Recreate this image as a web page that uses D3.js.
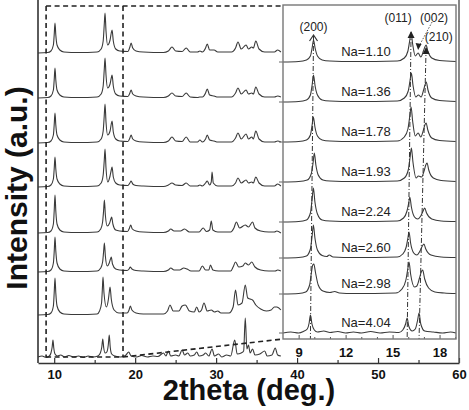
<!DOCTYPE html>
<html>
<head>
<meta charset="utf-8">
<script src="https://cdn.jsdelivr.net/npm/d3@7"></script>
<style>
body { margin: 0; background: #fff; }
text { font-family: "Liberation Sans", Arial, sans-serif; }
</style>
</head>
<body>
<div id="chart"></div>
<script>
// sample labels, top to bottom
var naLabels = ["Na=1.10", "Na=1.36", "Na=1.78", "Na=1.93", "Na=2.24", "Na=2.60", "Na=2.98", "Na=4.04"];

// stacking offset of every pattern (a.u.)
var mainOffsets = [310, 265, 220, 176, 130, 91, 48, 6];
var insetOffsets = [277, 237, 197, 157, 117, 81, 45, 6];

var mainTicks = [10, 20, 30, 40, 50, 60];
var mainMinorTicks = [15, 25, 35, 45, 55];
var insetTicks = [9, 12, 15, 18];
var insetMinorTicks = [10, 11, 13, 14, 16, 17, 19];

// zoom window marked in the main panel (2theta)
var zoomFrom = 9.0, zoomTo = 18.5;

// reflections followed in the inset: position in top and in bottom pattern
var hklNames = ["(200)", "(011)", "(210)"];
var hklTop = [9.95, 16.18, 17.14];
var hklBottom = [9.75, 15.93, 16.69];

// main panel patterns, [2theta, intensity above own baseline]
var mainNa110 = [[8,0],[9.2,0.5],[9.6,2],[9.9,8],[10,18],[10.1,30],[10.2,18],[10.35,8],[10.7,3],[11.2,1],[13,0.5],[15.3,1],[15.8,4],[16.05,12],[16.18,28],[16.28,40],[16.4,22],[16.6,8],[16.9,13],[17.05,20],[17.15,23],[17.3,12],[17.6,4],[18.1,2],[19.1,1.5],[19.35,6],[19.5,10],[19.7,5],[20.1,2],[21,1],[23.5,0.5],[24.1,2],[24.55,6],[25,2],[25.8,1.5],[26.3,5],[26.8,1],[27.7,1],[28,2],[28.3,1],[28.7,5],[28.9,9],[29.2,3],[29.75,3],[30.2,1],[31.9,1],[32.4,5],[32.7,11],[33.1,4],[33.7,8],[34,4],[34.4,6],[34.6,5],[34.9,12],[35.3,4],[36,1],[37.2,1],[37.6,3],[38,1]];
var mainNa136 = [[8,0],[9.2,0.5],[9.6,2],[9.9,8],[10,18],[10.1,30],[10.2,18],[10.35,8],[10.7,3],[11.2,1],[13,0.5],[15.3,1],[15.8,4],[16.05,12],[16.18,28],[16.28,40],[16.4,23],[16.6,10],[16.9,14],[17.05,20],[17.15,23],[17.3,12],[17.6,4],[18.1,2],[19.1,1.5],[19.35,5],[19.5,8],[19.7,4],[20.1,2],[21,1],[23.5,0.5],[24.1,2],[24.55,5],[25,2],[25.8,1.5],[26.3,5],[26.8,1],[27.7,0.5],[28,1],[28.3,1],[28.7,5],[28.9,9],[29.2,3],[29.75,2],[30.2,1],[31.9,1],[32.4,5],[32.7,10],[33.1,4],[33.7,8],[34,4],[34.4,5],[34.6,4],[34.9,11],[35.3,4],[36,1],[37.2,1],[37.6,2],[38,1]];
var mainNa178 = [[8,0],[9.2,0.5],[9.6,2],[9.9,8],[10,18],[10.1,30],[10.2,18],[10.35,8],[10.7,3],[11.2,1],[13,0.5],[15.3,1],[15.8,4],[16.05,12],[16.18,27],[16.28,39],[16.4,21],[16.6,8],[16.9,12],[17.05,19],[17.15,22],[17.3,11],[17.6,4],[18.1,2],[19.1,1.5],[19.35,5],[19.5,8],[19.7,4],[20.1,2],[21,1],[23.5,0.5],[24.1,2],[24.55,6],[25,2],[25.8,1.5],[26.3,6],[26.8,1],[27.7,1],[28,3],[28.3,1],[28.7,4],[28.9,8],[29.2,3],[29.75,2],[30.2,1],[31.9,1],[32.4,5],[32.7,10],[33.1,4],[33.7,9],[34,4],[34.4,6],[34.6,4],[34.9,12],[35.3,4],[36,1],[37.2,1],[37.6,2],[38,1]];
var mainNa193 = [[8,0],[9.2,0.5],[9.6,2],[9.9,8],[10,18],[10.1,30],[10.2,18],[10.35,8],[10.7,3],[11.2,1],[13,0.5],[15.3,1],[15.8,4],[16.05,12],[16.18,26],[16.28,38],[16.4,19],[16.62,5],[16.9,11],[17.05,17],[17.15,20],[17.3,10],[17.6,4],[18.1,2],[19.1,1.5],[19.35,4],[19.5,6],[19.7,3],[20.1,1.5],[21,1],[23.5,0.5],[24.1,2],[24.55,4],[25,2],[25.8,1.5],[26.3,4],[26.8,1],[27.7,1],[28,2],[28.3,1],[28.7,4],[28.9,6],[29.2,2],[29.4,5],[29.5,15],[29.65,4],[30.2,1],[31.9,1],[32.4,4],[32.7,9],[33.1,4],[33.7,7],[34,4],[34.4,5],[34.6,4],[34.9,10],[35.3,4],[36,1],[37.2,1],[37.6,3],[38,1]];
var mainNa224 = [[8,0],[9.2,0.5],[9.6,2],[9.9,9],[10,22],[10.1,38],[10.2,22],[10.35,9],[10.7,3],[11.2,1],[13,0.5],[15.3,1],[15.75,4],[15.98,11],[16.1,22],[16.2,33],[16.32,18],[16.55,7],[16.85,10],[17,14],[17.1,16],[17.25,9],[17.6,3],[18.1,2],[19.05,1.5],[19.3,5],[19.45,8],[19.65,4],[20.1,2],[21,1],[23.5,0.5],[24.1,2],[24.4,4],[24.8,2],[25.6,2],[26.1,4],[26.7,1],[27.9,1],[28.4,5],[28.8,1.5],[29.2,3],[29.4,12],[29.6,3],[30.2,1],[31.8,1],[32.2,5],[32.5,11],[32.9,5],[33.6,8],[34,6],[34.5,11],[34.8,5],[35.5,2],[36.5,1],[37.2,1],[37.5,2],[38,0]];
var mainNa260 = [[8,0],[9.2,0.5],[9.6,2],[9.9,9],[10,20],[10.1,35],[10.2,21],[10.35,9],[10.7,3],[11.2,1],[13,0.5],[15.3,1],[15.75,4],[15.98,10],[16.1,20],[16.2,29],[16.32,16],[16.55,6],[16.8,9],[16.95,13],[17.05,15],[17.2,8],[17.6,3],[18.1,2],[19,1.5],[19.25,3],[19.4,5],[19.6,3],[20.1,1.5],[21,1],[23.5,0.5],[24.1,2],[24.4,4],[24.8,2],[25.5,2],[26,4],[26.4,3],[26.9,1],[27.9,1],[28.3,6],[28.7,2],[29.1,2],[29.3,7],[29.6,2],[30.3,1],[31.8,1],[32.1,5],[32.4,10],[32.8,5],[33.3,6],[33.6,9],[34,7],[34.4,10],[34.8,5],[35.5,2],[36.5,1],[37.3,1],[37.6,2],[38,1]];
var mainNa298 = [[8,0],[9.2,0.5],[9.6,2],[9.9,9],[10,22],[10.1,37],[10.2,22],[10.35,9],[10.7,3],[11.2,1],[13,0.5],[15.3,1],[15.6,4],[15.85,12],[15.95,26],[16.03,38],[16.15,22],[16.45,8],[16.7,16],[16.82,24],[16.9,28],[17.05,16],[17.4,5],[18,2],[19,2],[19.25,5],[19.4,9],[19.6,5],[20.1,2],[21,1],[23.5,1],[24,4],[24.3,10],[24.7,4],[25.4,4],[25.8,9],[26.2,10],[26.7,4],[27.3,3],[27.6,8],[27.9,3],[28.2,5],[28.5,12],[28.9,4],[29.4,5],[29.8,3],[30.2,4],[30.6,2],[31.6,2],[32.1,8],[32.4,25],[32.7,10],[33.2,12],[33.6,30],[33.9,17],[34.2,16],[34.5,15],[34.9,10],[35.5,6],[36.2,4],[36.8,5],[37.2,8],[37.5,8],[38,5]];
var mainNa404 = [[8,0],[8.5,1],[9,-0.5],[9.4,1],[9.6,4],[9.75,10],[9.85,17],[9.95,9],[10.1,3],[10.4,1],[10.8,2],[11.3,0],[11.8,1.5],[12.4,0],[13,1],[13.6,-0.5],[14.2,1],[14.8,0],[15.4,1],[15.7,4],[15.88,10],[16,18],[16.12,9],[16.3,4],[16.5,5],[16.68,12],[16.8,22],[16.92,10],[17.1,3],[17.5,1],[18.2,0],[18.8,1.5],[19.2,5],[19.5,1],[20.2,0],[20.8,1.5],[21.5,0],[22.2,1],[22.8,0.5],[23.5,4],[23.8,1],[24.1,6],[24.4,1],[25,2],[25.4,1],[25.8,7],[26.1,2],[26.5,4],[26.8,1],[27.3,2],[27.6,5],[27.9,1],[28.4,2],[28.7,4],[29.1,1],[29.5,8],[29.8,1],[30.3,3],[30.7,0],[31.3,2],[31.8,1],[32.3,17],[32.6,3],[33.1,4],[33.4,6],[33.6,39],[33.8,8],[34,12],[34.2,4],[34.5,8],[34.8,2],[35.4,3],[36,6],[36.3,1],[36.9,2],[37.3,9],[37.6,2],[38,1]];

// inset patterns (8 - 19 deg), [2theta, intensity above own baseline]
var insetNa110 = [[8,0],[9,0.5],[9.5,2],[9.75,6],[9.87,15],[9.95,22],[10.05,14],[10.2,6],[10.5,2],[11,1],[12.5,0.5],[15.3,1],[15.75,4],[15.98,11],[16.1,22],[16.18,29],[16.28,18],[16.45,6],[16.63,9],[16.8,5],[16.97,11],[17.06,15],[17.14,17],[17.25,11],[17.5,4],[18,1.5],[19.05,0.5]];
var insetNa136 = [[8,0],[9,0.5],[9.5,2],[9.75,7],[9.87,18],[9.95,27],[10.05,16],[10.2,7],[10.5,2],[11,1],[12.5,0.5],[15.3,1],[15.75,4],[16,11],[16.12,22],[16.2,29],[16.3,17],[16.48,5],[16.65,7],[16.82,5],[16.98,12],[17.07,17],[17.15,20],[17.26,12],[17.5,4],[18,1.5],[19.05,0.5]];
var insetNa178 = [[8,0],[9,0.5],[9.5,2],[9.75,7],[9.86,17],[9.94,25],[10.04,15],[10.2,6],[10.5,2],[11,1],[12.5,0.5],[15.3,1],[15.75,5],[15.98,13],[16.1,26],[16.18,35],[16.28,21],[16.45,6],[16.63,9],[16.8,5],[16.97,12],[17.06,17],[17.14,19],[17.25,12],[17.5,4],[18,1.5],[19.05,0.5]];
var insetNa193 = [[8,0],[9,0.5],[9.55,2],[9.8,8],[9.92,19],[10,29],[10.1,17],[10.25,7],[10.55,2],[11,1],[12.5,0.5],[15.3,1],[15.75,4],[16,12],[16.12,25],[16.2,34],[16.3,20],[16.5,4],[16.65,6],[16.85,5],[17.03,12],[17.12,17],[17.2,19],[17.31,12],[17.6,4],[18.1,1.5],[19.05,0.5]];
var insetNa224 = [[8,0],[9,0.5],[9.5,2],[9.75,9],[9.86,23],[9.94,34],[10.04,20],[10.2,8],[10.5,2],[11,1],[12.5,0.5],[15.3,1],[15.7,4],[15.92,11],[16.03,19],[16.1,25],[16.2,15],[16.4,5],[16.6,3],[16.8,6],[16.95,11],[17.05,14],[17.17,9],[17.5,3],[18.1,1],[19.05,0.5]];
var insetNa260 = [[8,0],[9,0.5],[9.5,2],[9.75,9],[9.86,22],[9.94,33],[10.04,20],[10.2,8],[10.5,2.5],[10.8,1.5],[10.95,3],[11.2,1],[12.5,0.5],[15.3,1],[15.65,4],[15.87,11],[15.98,20],[16.05,26],[16.15,15],[16.35,5],[16.55,3],[16.75,7],[16.9,12],[17,14],[17.12,9],[17.45,3],[18.1,1],[19.05,0.5]];
var insetNa298 = [[8,0],[9,0.5],[9.45,2],[9.7,9],[9.82,22],[9.9,29],[9.97,30],[10.07,22],[10.25,9],[10.55,3],[11,1.5],[11.3,2.5],[11.6,1],[12.5,0.5],[15.2,1],[15.6,5],[15.85,14],[15.97,25],[16.05,32],[16.15,20],[16.4,7],[16.55,8],[16.72,16],[16.83,22],[16.92,24],[17.05,15],[17.3,6],[17.7,2],[18.3,1],[19.05,0.5]];
var insetNa404 = [[8,0],[8.5,1],[9,0],[9.3,1.5],[9.55,4],[9.67,10],[9.75,18],[9.85,9],[10,3],[10.2,1],[10.6,2],[11,0.5],[11.5,1.5],[12,0],[12.5,1],[13,0],[13.6,1.5],[14.2,0],[14.8,1],[15.4,0.5],[15.65,3],[15.83,9],[15.93,15],[16.03,7],[16.25,2],[16.45,4],[16.6,13],[16.69,20],[16.8,9],[17.05,2],[17.6,1],[18.2,0],[18.7,1],[19.05,0]];

var mainPatterns = [mainNa110, mainNa136, mainNa178, mainNa193, mainNa224, mainNa260, mainNa298, mainNa404];
var insetPatterns = [insetNa110, insetNa136, insetNa178, insetNa193, insetNa224, insetNa260, insetNa298, insetNa404];

var outerWidth = 469;
var outerHeight = 410;
var margin = { left: 38, top: 0, right: 10, bottom: 47 };
var innerWidth = outerWidth - margin.left - margin.right;
var innerHeight = outerHeight - margin.top - margin.bottom;

var lineColor = "#3a3a3a";
var axisColor = "#333";

var svg = d3.select("#chart").append("svg")
    .attr("width", outerWidth)
    .attr("height", outerHeight);

var g = svg.append("g")
    .attr("transform", "translate(" + margin.left + "," + margin.top + ")");

var xScale = d3.scaleLinear().domain([8, 60]).range([0, innerWidth]);
var yScale = d3.scaleLinear().domain([0, innerHeight]).range([innerHeight, 0]);

// main patterns
mainPatterns.forEach(function (pattern, i) {
    var line = d3.line()
        .x(function (d) { return xScale(d[0]); })
        .y(function (d) { return yScale(d[1] + mainOffsets[i]); })
        .curve(d3.curveMonotoneX);
    g.append("path")
        .attr("d", line(pattern))
        .attr("fill", "none")
        .attr("stroke", lineColor)
        .attr("stroke-width", 1.1);
});

// inset position inside the main panel
var insetLeft = 245, insetTop = 5, insetW = 173, insetH = 334;

// zoom box (dashed)
var boxTop = 6, boxBottom = yScale(mainOffsets[7]);
var dash = g.append("g")
    .attr("fill", "none")
    .attr("stroke", "#222")
    .attr("stroke-width", 1.6)
    .attr("stroke-dasharray", "5,3.5");

dash.append("line").attr("x1", xScale(zoomFrom)).attr("x2", xScale(zoomFrom)).attr("y1", boxTop).attr("y2", boxBottom);
dash.append("line").attr("x1", xScale(zoomTo)).attr("x2", xScale(zoomTo)).attr("y1", boxTop).attr("y2", boxBottom);
dash.append("line").attr("x1", xScale(zoomFrom)).attr("x2", insetLeft).attr("y1", boxTop).attr("y2", boxTop);
dash.append("line").attr("x1", xScale(zoomFrom)).attr("x2", xScale(zoomTo)).attr("y1", boxBottom).attr("y2", boxBottom);
dash.append("line").attr("x1", xScale(zoomTo)).attr("x2", insetLeft).attr("y1", boxBottom).attr("y2", insetTop + insetH);

// main axes
var xAxisG = g.append("g")
    .attr("transform", "translate(0," + innerHeight + ")")
    .call(d3.axisBottom(xScale).tickValues(mainTicks).tickSizeInner(-5).tickSizeOuter(0).tickPadding(7));
var xMinorG = g.append("g")
    .attr("transform", "translate(0," + innerHeight + ")")
    .call(d3.axisBottom(xScale).tickValues(mainMinorTicks).tickSizeInner(-3).tickSizeOuter(0));
xMinorG.select(".domain").remove();
xMinorG.selectAll("text").remove();
xAxisG.selectAll("text")
    .attr("font-size", 13)
    .attr("font-weight", "bold")
    .attr("fill", "#111");
g.selectAll(".tick line").attr("stroke", axisColor).attr("stroke-width", 1.2);
xAxisG.select(".domain").attr("stroke", axisColor).attr("stroke-width", 1.6);

g.append("line")
    .attr("x1", 0).attr("x2", 0).attr("y1", 0).attr("y2", innerHeight)
    .attr("stroke", axisColor).attr("stroke-width", 1.6);
g.append("line")
    .attr("x1", innerWidth).attr("x2", innerWidth).attr("y1", 0).attr("y2", innerHeight)
    .attr("stroke", "#555").attr("stroke-width", 1.4);

// inset
var inset = g.append("g")
    .attr("transform", "translate(" + insetLeft + "," + insetTop + ")");
inset.append("rect")
    .attr("width", insetW).attr("height", insetH)
    .attr("fill", "#fff");

var insetX = d3.scaleLinear().domain([8, 19.05]).range([0, insetW]);
var insetY = d3.scaleLinear().domain([0, insetH]).range([insetH, 0]);

insetPatterns.forEach(function (pattern, i) {
    var line = d3.line()
        .x(function (d) { return insetX(d[0]); })
        .y(function (d) { return insetY(d[1] + insetOffsets[i]); })
        .curve(d3.curveMonotoneX);
    inset.append("path")
        .attr("d", line(pattern))
        .attr("fill", "none")
        .attr("stroke", lineColor)
        .attr("stroke-width", 1.1);
});

// sample labels
inset.selectAll(".na")
    .data(naLabels)
    .enter()
    .append("text")
    .attr("x", insetX(13.3))
    .attr("y", function (d, i) { return insetY(insetOffsets[i] + 6); })
    .attr("text-anchor", "middle")
    .attr("font-size", 13)
    .attr("fill", "#222")
    .text(function (d) { return d; });

// dash-dot guide lines through the peaks
var guideTopY = [31, 27, 43];
hklNames.forEach(function (name, i) {
    inset.append("line")
        .attr("x1", insetX(hklTop[i])).attr("y1", guideTopY[i])
        .attr("x2", insetX(hklBottom[i])).attr("y2", insetH)
        .attr("stroke", "#333")
        .attr("stroke-width", 1)
        .attr("stroke-dasharray", "5,2,1,2");
});

// arrow heads
var ax0 = insetX(hklTop[0]);
inset.append("path")
    .attr("d", "M" + (ax0 - 4) + "," + (guideTopY[0] + 5) + "L" + ax0 + "," + (guideTopY[0] - 1) + "L" + (ax0 + 4) + "," + (guideTopY[0] + 5))
    .attr("fill", "none").attr("stroke", "#333").attr("stroke-width", 1.2);
[1, 2].forEach(function (i) {
    var ax = insetX(hklTop[i]), ay = guideTopY[i];
    inset.append("path")
        .attr("d", "M" + (ax - 3.5) + "," + (ay + 6) + "L" + ax + "," + (ay - 1) + "L" + (ax + 3.5) + "," + (ay + 6) + "Z")
        .attr("fill", "#222");
});

// (002) dotted pointer
var p002 = insetX(16.63);
inset.append("line")
    .attr("x1", insetX(17.65) - 2).attr("y1", 17)
    .attr("x2", p002 + 1).attr("y2", 41)
    .attr("stroke", "#444").attr("stroke-width", 0.9)
    .attr("stroke-dasharray", "1.5,1.5");
inset.append("path")
    .attr("d", "M" + (p002 - 2.5) + "," + 38 + "L" + p002 + "," + 45 + "L" + (p002 + 3.5) + "," + 39 + "Z")
    .attr("fill", "#222");

// hkl labels
var hklLabelText = ["(200)", "(011)", "(002)", "(210)"];
var hklLabelX = [9.95, 15.35, 17.65, 17.95];
var hklLabelY = [22, 13, 13, 32];
inset.selectAll(".hkl")
    .data(hklLabelText)
    .enter()
    .append("text")
    .attr("x", function (d, i) { return insetX(hklLabelX[i]); })
    .attr("y", function (d, i) { return hklLabelY[i] + 4; })
    .attr("text-anchor", "middle")
    .attr("font-size", 12)
    .attr("fill", "#222")
    .text(function (d) { return d; });

// inset axes
var insetAxis = inset.append("g")
    .attr("transform", "translate(0," + insetH + ")")
    .call(d3.axisBottom(insetX).tickValues(insetTicks).tickSizeInner(-4).tickSizeOuter(0).tickPadding(9));
var insetMinor = inset.append("g")
    .attr("transform", "translate(0," + insetH + ")")
    .call(d3.axisBottom(insetX).tickValues(insetMinorTicks).tickSizeInner(-2).tickSizeOuter(0));
insetMinor.select(".domain").remove();
insetMinor.selectAll("text").remove();
insetAxis.select(".domain").remove();
insetAxis.selectAll("text")
    .attr("font-size", 13)
    .attr("font-weight", "bold")
    .attr("fill", "#111");
inset.selectAll(".tick line").attr("stroke", "#555");

// inset y ticks at each baseline
inset.selectAll(".ytick")
    .data(insetOffsets)
    .enter()
    .append("line")
    .attr("x1", -4).attr("x2", 0)
    .attr("y1", function (d) { return insetY(d); })
    .attr("y2", function (d) { return insetY(d); })
    .attr("stroke", "#666");

inset.append("rect")
    .attr("width", insetW).attr("height", insetH)
    .attr("fill", "none")
    .attr("stroke", "#777")
    .attr("stroke-width", 1.4);

// axis titles
svg.append("text")
    .attr("x", 249)
    .attr("y", 400)
    .attr("text-anchor", "middle")
    .attr("font-size", 29)
    .attr("font-weight", "bold")
    .attr("fill", "#111")
    .text("2theta (deg.)");

svg.append("text")
    .attr("transform", "rotate(-90)")
    .attr("x", -188)
    .attr("y", 27)
    .attr("text-anchor", "middle")
    .attr("font-size", 30)
    .attr("font-weight", "bold")
    .attr("fill", "#111")
    .text("Intensity (a.u.)");
</script>
</body>
</html>
